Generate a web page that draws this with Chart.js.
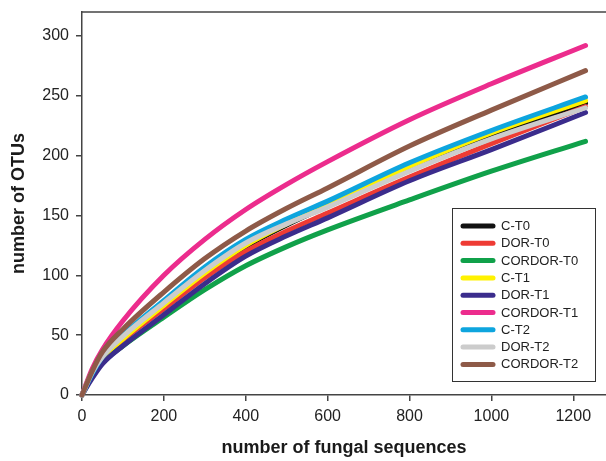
<!DOCTYPE html>
<html>
<head>
<meta charset="utf-8">
<title>Rarefaction curves</title>
<script src="https://cdn.jsdelivr.net/npm/chart.js@4/dist/chart.umd.min.js"></script>
<style>
    html, body { margin: 0; padding: 0; background: #fff; }
</style>
</head>
<body>
<canvas id="rarefactionChart" width="606" height="461"></canvas>
<script>
// rarefaction.js

const seqCounts = [0, 25, 50, 100, 200, 300, 400, 500, 600, 800, 1000, 1230];

const sampleNames = ['C-T0', 'DOR-T0', 'CORDOR-T0', 'C-T1', 'DOR-T1', 'CORDOR-T1', 'C-T2', 'DOR-T2', 'CORDOR-T2'];

// OTUs observed at each point of seqCounts
const cT0      = [0, 18, 31, 48, 76, 102, 124, 142, 158, 189, 217, 244];
const dorT0    = [0, 17, 30, 46, 72,  98, 120, 137, 152, 182, 210, 241];
const cordorT0 = [0, 16, 27, 41, 65,  88, 108, 124, 138, 163, 187, 212];
const cT1      = [0, 18, 31, 47, 75, 102, 125, 143, 159, 191, 219, 246];
const dorT1    = [0, 14, 26, 41, 67,  93, 116, 133, 148, 179, 205, 236];
const cordorT1 = [0, 22, 38, 62, 100, 130, 155, 176, 195, 230, 260, 292];
const cT2      = [0, 18, 32, 50, 79, 107, 130, 147, 162, 194, 221, 249];
const dorT2    = [0, 19, 32, 49, 77, 104, 127, 143, 157, 187, 214, 240];
const cordorT2 = [0, 20, 36, 55, 86, 114, 137, 156, 173, 208, 238, 271];

const xTicks = [0, 200, 400, 600, 800, 1000, 1200];
const yTicks = [0, 50, 100, 150, 200, 250, 300];

const seriesValues = [cT0, dorT0, cordorT0, cT1, dorT1, cordorT1, cT2, dorT2, cordorT2];
const seriesColors = ['#111111', '#ee3b34', '#10a14a', '#fff200', '#3b2c8c', '#ec2c8d', '#0ea5de', '#cccccc', '#8e5a48'];

const axisColor = '#444444';
const fontFamily = 'Arial, "Liberation Sans", Helvetica, sans-serif';

const datasets = sampleNames.map((name, i) => ({
    label: name,
    data: seqCounts.map((x, j) => ({ x: x, y: seriesValues[i][j] })),
    borderColor: seriesColors[i],
    backgroundColor: seriesColors[i],
    borderWidth: 5,
    borderCapStyle: 'round',
    borderJoinStyle: 'round',
    pointRadius: 0,
    cubicInterpolationMode: 'monotone',
    fill: false,
    clip: false,
    // later samples are painted over earlier ones, like the original plot
    order: sampleNames.length - i
}));

// top frame line + boxed legend inside the plot
const frameLegend = {
    id: 'frameLegend',
    afterDraw(chart) {
        const { ctx, chartArea } = chart;
        ctx.save();

        ctx.strokeStyle = axisColor;
        ctx.lineWidth = 1.5;
        ctx.beginPath();
        ctx.moveTo(chartArea.left, chartArea.top);
        ctx.lineTo(chartArea.right, chartArea.top);
        ctx.stroke();

        const boxX = 452.5, boxY = 208.5, boxW = 143, boxH = 173;
        ctx.fillStyle = '#ffffff';
        ctx.fillRect(boxX, boxY, boxW, boxH);
        ctx.strokeStyle = '#333333';
        ctx.lineWidth = 1;
        ctx.strokeRect(boxX, boxY, boxW, boxH);

        ctx.font = '13px ' + fontFamily;
        ctx.textBaseline = 'middle';
        ctx.textAlign = 'left';
        ctx.lineCap = 'round';
        chart.data.datasets.forEach((ds, i) => {
            const y = 226 + i * 17.3;
            ctx.strokeStyle = ds.borderColor;
            ctx.lineWidth = 5;
            ctx.beginPath();
            ctx.moveTo(463, y);
            ctx.lineTo(493, y);
            ctx.stroke();
            ctx.fillStyle = '#222222';
            ctx.fillText(ds.label, 501, y + 0.5);
        });

        ctx.restore();
    }
};

const ctx = document.getElementById('rarefactionChart').getContext('2d');

new Chart(ctx, {
    type: 'line',
    data: { datasets: datasets },
    options: {
        responsive: false,
        animation: false,
        layout: { padding: { top: 12, right: 0, left: 0, bottom: 0 } },
        plugins: {
            legend: { display: false },
            tooltip: { enabled: false }
        },
        scales: {
            x: {
                type: 'linear',
                min: 0,
                max: 1280,
                afterBuildTicks: (scale) => { scale.ticks = xTicks.map(v => ({ value: v })); },
                afterFit: (scale) => { scale.height = 66; },
                grid: { drawOnChartArea: false, drawTicks: true, tickLength: 6, color: axisColor, lineWidth: 1.5 },
                border: { display: true, color: axisColor, width: 1.5 },
                ticks: {
                    color: '#222222',
                    padding: 6,
                    maxRotation: 0,
                    font: { family: fontFamily, size: 16 },
                    callback: (value) => String(value)
                },
                title: {
                    display: true,
                    text: 'number of fungal sequences',
                    color: '#1a1a1a',
                    font: { family: fontFamily, size: 18, weight: 'bold' },
                    padding: { top: 0, bottom: 2 }
                }
            },
            y: {
                type: 'linear',
                min: 0,
                max: 320,
                afterBuildTicks: (scale) => { scale.ticks = yTicks.map(v => ({ value: v })); },
                afterFit: (scale) => {
                    scale.width = 82;
                    // top tick (300) sits well below the frame, no need for label room
                    scale.paddingTop = 0;
                },
                grid: { drawOnChartArea: false, drawTicks: true, tickLength: 6, color: axisColor, lineWidth: 1.5 },
                border: { display: true, color: axisColor, width: 1.5 },
                ticks: {
                    color: '#222222',
                    padding: 7,
                    font: { family: fontFamily, size: 16 },
                    callback: (value) => String(value)
                },
                title: {
                    display: true,
                    text: 'number of OTUs',
                    color: '#1a1a1a',
                    font: { family: fontFamily, size: 18, weight: 'bold' },
                    padding: { top: 8, bottom: 0 }
                }
            }
        }
    },
    plugins: [frameLegend]
});
</script>
</body>
</html>
